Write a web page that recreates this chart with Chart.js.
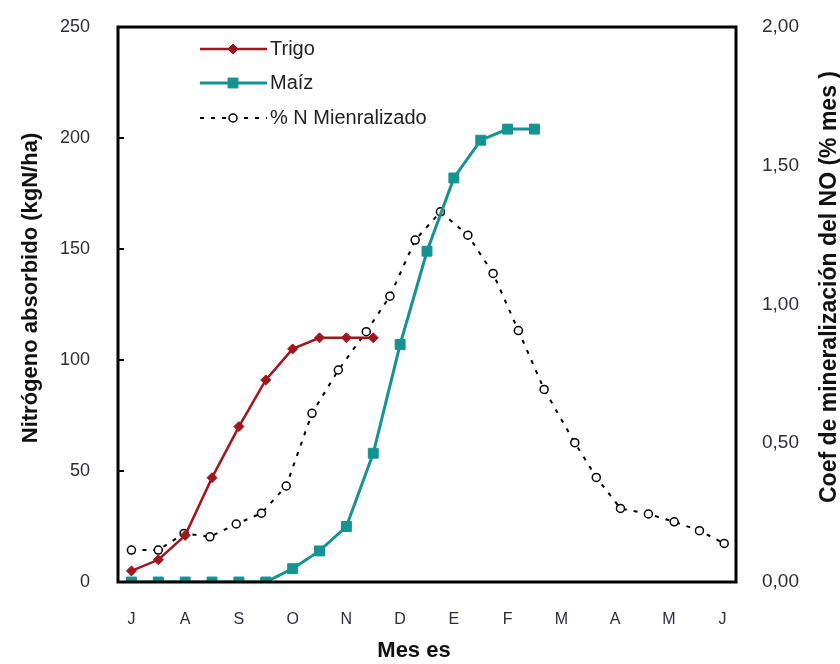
<!DOCTYPE html>
<html>
<head>
<meta charset="utf-8">
<script src="https://cdn.jsdelivr.net/npm/chart.js@4"></script>
<style>
    html, body { margin: 0; padding: 0; background: #fff; }
    #wrap { width: 840px; height: 664px; }
</style>
</head>
<body>
<div id="wrap"><canvas id="lineChart" width="840" height="664"></canvas></div>
<script>
// meses (eje x)
const mesLabels = ['J', 'A', 'S', 'O', 'N', 'D', 'E', 'F', 'M', 'A', 'M', 'J'];

// Trigo (kgN/ha), cada medio mes desde julio
const trigoX = [0, 0.5, 1, 1.5, 2, 2.5, 3, 3.5, 4, 4.5];
const trigo = [5, 10, 21, 47, 70, 91, 105, 110, 110, 110];

// Maíz (kgN/ha)
const maizX = [0, 0.5, 1, 1.5, 2, 2.5, 3, 3.5, 4, 4.5, 5, 5.5, 6, 6.5, 7, 7.5];
const maiz = [0, 0, 0, 0, 0, 0, 6, 14, 25, 58, 107, 149, 182, 199, 204, 204];

// % N mineralizado (% mes), eje derecho
const mineralX = [0, 0.5, 0.98, 1.46, 1.95, 2.42, 2.88, 3.36, 3.85, 4.37, 4.81, 5.28,
                  5.75, 6.26, 6.73, 7.2, 7.68, 8.25, 8.65, 9.1, 9.62, 10.1, 10.57, 11.03];
const mineral = [0.115, 0.115, 0.175, 0.163, 0.209, 0.248, 0.346, 0.608, 0.764, 0.902, 1.03, 1.232,
                 1.334, 1.25, 1.112, 0.906, 0.694, 0.502, 0.377, 0.265, 0.245, 0.217, 0.185, 0.139];

const yTicks = [0, 50, 100, 150, 200, 250];
const y1Ticks = [0, 0.5, 1, 1.5, 2];

const legendNames = ['Trigo', 'Maíz', '% N Mienralizado'];

const ROJO = '#a0161f';
const VERDE = '#159392';
const FONT = "'Liberation Sans', Arial, sans-serif";
const TICK_COLOR = '#2c2c3c';

function toPoints(xs, ys) {
    return xs.map(function(x, i) { return { x: x, y: ys[i] }; });
}

function noPad(scale) {
    scale.paddingTop = 0;
    scale.paddingBottom = 0;
    scale.paddingLeft = 0;
    scale.paddingRight = 0;
}

const extras = {
    id: 'extras',
    afterDraw: function(chart) {
        const ctx = chart.ctx;
        const a = chart.chartArea;
        const yScale = chart.scales.y;
        ctx.save();

        // marco
        ctx.strokeStyle = '#000';
        ctx.lineWidth = 3;
        ctx.strokeRect(a.left, a.top, a.right - a.left, a.bottom - a.top);

        // marcas interiores del eje izquierdo
        ctx.lineWidth = 2;
        yTicks.forEach(function(v) {
            const y = yScale.getPixelForValue(v);
            ctx.beginPath();
            ctx.moveTo(a.left, y);
            ctx.lineTo(a.left + 6, y);
            ctx.stroke();
        });

        // leyenda
        const ds = chart.data.datasets;
        const rows = [49, 83, 118];
        ctx.font = '20px ' + FONT;
        ctx.textBaseline = 'middle';
        ctx.textAlign = 'left';
        rows.forEach(function(ry, i) {
            const d = ds[i];
            ctx.strokeStyle = d.borderColor;
            ctx.lineWidth = d.borderWidth;
            ctx.setLineDash(d.borderDash || []);
            ctx.beginPath();
            ctx.moveTo(200, ry);
            ctx.lineTo(267, ry);
            ctx.stroke();
            ctx.setLineDash([]);
            ctx.fillStyle = d.pointBackgroundColor;
            ctx.strokeStyle = d.pointBorderColor;
            ctx.lineWidth = d.pointBorderWidth;
            Chart.helpers.drawPoint(ctx, {
                pointStyle: d.pointStyle,
                radius: d.pointRadius,
                borderWidth: d.pointBorderWidth
            }, 233, ry);
            ctx.fillStyle = '#222';
            ctx.fillText(legendNames[i], 270, ry);
        });

        // titulos de ejes
        ctx.fillStyle = '#111';
        ctx.textAlign = 'center';
        ctx.textBaseline = 'middle';
        ctx.font = 'bold 22px ' + FONT;
        ctx.save();
        ctx.translate(31, 288);
        ctx.rotate(-Math.PI / 2);
        ctx.fillText('Nitrógeno absorbido (kgN/ha)', 0, 0);
        ctx.restore();

        ctx.font = 'bold 23px ' + FONT;
        ctx.save();
        ctx.translate(830, 287);
        ctx.rotate(-Math.PI / 2);
        ctx.fillText('Coef de mineralización del NO (% mes )', 0, 0);
        ctx.restore();

        ctx.font = 'bold 22px ' + FONT;
        ctx.fillText('Mes es', 414, 651);

        ctx.restore();
    }
};

var ctx = document.getElementById('lineChart').getContext('2d');
var lineChart = new Chart(ctx, {
    type: 'line',
    data: {
        datasets: [{
            label: legendNames[0],
            data: toPoints(trigoX, trigo),
            yAxisID: 'y',
            borderColor: ROJO,
            backgroundColor: ROJO,
            borderWidth: 2.5,
            pointStyle: 'rectRot',
            pointRadius: 5,
            pointBorderWidth: 1,
            pointBackgroundColor: ROJO,
            pointBorderColor: ROJO,
            tension: 0
        }, {
            label: legendNames[1],
            data: toPoints(maizX, maiz),
            yAxisID: 'y',
            borderColor: VERDE,
            backgroundColor: VERDE,
            borderWidth: 3,
            pointStyle: 'rect',
            pointRadius: 7,
            pointBorderWidth: 1,
            pointBackgroundColor: VERDE,
            pointBorderColor: VERDE,
            tension: 0
        }, {
            label: legendNames[2],
            data: toPoints(mineralX, mineral),
            yAxisID: 'y1',
            borderColor: '#000',
            backgroundColor: '#fff',
            borderWidth: 2,
            borderDash: [4, 7],
            pointStyle: 'circle',
            pointRadius: 4,
            pointBorderWidth: 1.5,
            pointBackgroundColor: '#fff',
            pointBorderColor: '#000',
            tension: 0
        }]
    },
    options: {
        responsive: false,
        animation: false,
        layout: { padding: { top: 27, left: 0, right: 0, bottom: 0 } },
        plugins: {
            legend: { display: false },
            tooltip: { enabled: false }
        },
        scales: {
            x: {
                type: 'linear',
                min: -0.25,
                max: 11.25,
                grid: { display: false },
                border: { display: false },
                afterBuildTicks: function(scale) {
                    scale.ticks = mesLabels.map(function(m, i) { return { value: i }; });
                },
                afterFit: function(scale) { scale.height = 82; noPad(scale); },
                ticks: {
                    autoSkip: false,
                    maxRotation: 0,
                    padding: 20,
                    color: TICK_COLOR,
                    font: { family: FONT, size: 16 },
                    callback: function(value) { return mesLabels[value]; }
                }
            },
            y: {
                position: 'left',
                min: 0,
                max: 250,
                grid: { display: false },
                border: { display: false },
                afterBuildTicks: function(scale) {
                    scale.ticks = yTicks.map(function(v) { return { value: v }; });
                },
                afterFit: function(scale) { scale.width = 118; noPad(scale); },
                ticks: {
                    padding: 20,
                    color: TICK_COLOR,
                    font: { family: FONT, size: 18 }
                }
            },
            y1: {
                position: 'right',
                min: 0,
                max: 2,
                grid: { display: false },
                border: { display: false },
                afterBuildTicks: function(scale) {
                    scale.ticks = y1Ticks.map(function(v) { return { value: v }; });
                },
                afterFit: function(scale) { scale.width = 104; noPad(scale); },
                ticks: {
                    padding: 18,
                    color: TICK_COLOR,
                    font: { family: FONT, size: 19 },
                    callback: function(value) { return value.toFixed(2).replace('.', ','); }
                }
            }
        }
    },
    plugins: [extras]
});
</script>
</body>
</html>
